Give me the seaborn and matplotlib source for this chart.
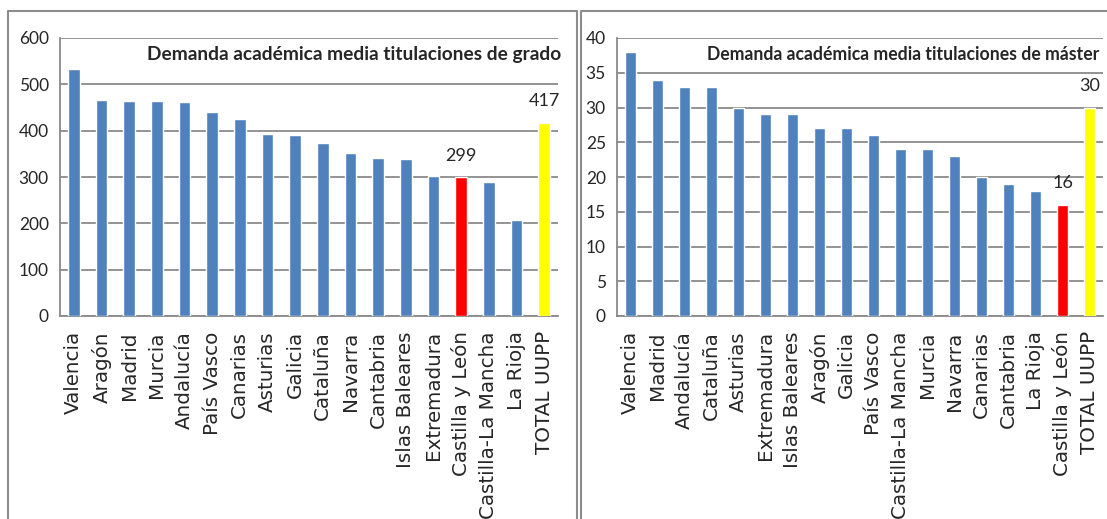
import matplotlib
matplotlib.use("Agg")
import matplotlib.pyplot as plt
from matplotlib.lines import Line2D
import seaborn as sns

# datos: demanda académica media por comunidad
grado_cats = ["Valencia", "Aragón", "Madrid", "Murcia", "Andalucía", "País Vasco",
              "Canarias", "Asturias", "Galicia", "Cataluña", "Navarra", "Cantabria",
              "Islas Baleares", "Extremadura", "Castilla y León", "Castilla-La Mancha",
              "La Rioja", "TOTAL UUPP"]
grado_vals = [533, 466, 465, 464, 462, 441, 426, 393, 390, 373, 352, 341, 339,
              302, 299, 290, 207, 417]

master_cats = ["Valencia", "Madrid", "Andalucía", "Cataluña", "Asturias", "Extremadura",
               "Islas Baleares", "Aragón", "Galicia", "País Vasco", "Castilla-La Mancha",
               "Murcia", "Navarra", "Canarias", "Cantabria", "La Rioja",
               "Castilla y León", "TOTAL UUPP"]
master_vals = [38, 34, 33, 33, 30, 29, 29, 27, 27, 26, 24, 24, 23, 20, 19, 18, 16, 30]

grado_title = "Demanda académica media titulaciones de grado"
master_title = "Demanda académica media titulaciones de máster"

BLUE, RED, YELLOW = "#4F81BD", "#FF0000", "#FFFF00"
GRID = "#8a8a8a"
NUM_FONT = "Lato"


def bar_colors(cats):
    out = {}
    for c in cats:
        if c == "Castilla y León":
            out[c] = RED
        elif c == "TOTAL UUPP":
            out[c] = YELLOW
        else:
            out[c] = BLUE
    return out


def draw(ax, cats, vals, ymax, ystep, title, title_x, title_size, labelled):
    sns.barplot(x=cats, y=vals, hue=cats, palette=bar_colors(cats), legend=False,
                width=0.42, saturation=1, ax=ax, zorder=3)
    ax.set_xlim(-0.5, len(cats) - 0.5)
    ax.set_ylim(0, ymax)
    ax.set_yticks(range(0, ymax + 1, ystep))
    ax.yaxis.grid(True, color=GRID, linewidth=1.3, zorder=0)
    ax.xaxis.grid(False)
    ax.set_axisbelow(True)
    for s in ["top", "right"]:
        ax.spines[s].set_visible(False)
    for s in ["left", "bottom"]:
        ax.spines[s].set_color(GRID)
        ax.spines[s].set_linewidth(1.3)
    ax.set_xticks(range(len(cats)))
    ax.set_xticklabels(cats, rotation=90, fontsize=14.3)
    ax.tick_params(axis="x", length=0, pad=11)
    ax.set_xticks([i - 0.5 for i in range(len(cats) + 1)], minor=True)
    ax.tick_params(axis="x", which="minor", length=6, color=GRID, width=1.3)
    ax.tick_params(axis="y", length=4, color=GRID, width=1.3, labelsize=12.5, pad=4)
    for lab in ax.get_yticklabels():
        lab.set_family(NUM_FONT)
    ax.set_xlabel("")
    ax.set_ylabel("")

    # etiquetas de valor
    for c in labelled:
        i = cats.index(c)
        ax.annotate(str(vals[i]), (i, vals[i]), xytext=(0, 10), textcoords="offset points",
                    ha="center", va="bottom", fontsize=13, family=NUM_FONT)

    ax.text(title_x, 0.94, title, transform=ax.transAxes, ha="left", va="center",
            fontsize=title_size, fontweight="bold", family=NUM_FONT, zorder=5,
            bbox=dict(facecolor="white", edgecolor="none", pad=5))


sns.set_style("white")
plt.rcParams["font.family"] = ["DejaVu Sans"]
fig = plt.figure(figsize=(11.07, 5.19), dpi=100)
W, H = 1107, 519

ax1 = fig.add_axes([60 / W, (H - 316) / H, 498 / W, 278 / H])
ax2 = fig.add_axes([617 / W, (H - 316) / H, 486 / W, 278 / H])

draw(ax1, grado_cats, grado_vals, 600, 100, grado_title, 0.175, 13.8,
     ["Castilla y León", "TOTAL UUPP"])
draw(ax2, master_cats, master_vals, 40, 5, master_title, 0.185, 12.7,
     ["Castilla y León", "TOTAL UUPP"])

# marcos de los dos paneles
for x0, x1 in [(8, 577), (581, 1110)]:
    pts = [(x0, -5), (x0, 11), (x1, 11), (x1, -5)]
    xs = [p[0] / W for p in pts]
    ys = [(H - p[1]) / H if p[1] >= 0 else 0 for p in pts]
    fig.add_artist(Line2D(xs, ys, color="#8c8c8c", linewidth=1.5,
                          transform=fig.transFigure))

fig.savefig("out.png", dpi=100)
